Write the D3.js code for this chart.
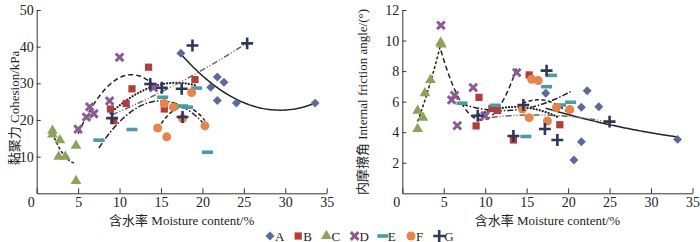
<!DOCTYPE html>
<html>
<head>
<meta charset="utf-8">
<script src="https://cdn.jsdelivr.net/npm/d3@7"></script>
<style>
  body { margin: 0; background: #fff; }
  text { font-family: "Liberation Serif", "Times New Roman", "Noto Sans CJK SC", serif; fill: #222; }
</style>
</head>
<body>
<svg id="chart" width="700" height="242"></svg>
<script>
const series = ["A", "B", "C", "D", "E", "F", "G"];
const colors = ["#5b6a9c", "#b13d3c", "#8da35b", "#8b5b93", "#4c9aa7", "#e6854b", "#2e375a"];
const xTicks = [0, 5, 10, 15, 20, 25, 30, 35];
const cohTicks = [10, 20, 30, 40, 50];
const fricTicks = [2, 4, 6, 8, 10, 12];

// cohesion (kPa) vs moisture content (%)
const cohA = [[17.4, 38.2], [21.0, 28.9], [21.8, 31.7], [22.6, 30.3], [21.8, 25.3], [24.1, 24.6], [33.6, 24.6]];
const cohB = [[8.9, 23.0], [9.3, 19.8], [10.8, 24.5], [11.5, 28.5], [13.5, 34.4], [15.4, 23.0], [19.1, 31.0]];
const cohC = [[1.9, 17.1], [1.9, 16.1], [2.8, 14.5], [2.65, 10.0], [3.45, 10.0], [4.74, 13.0], [4.74, 3.4]];
const cohD = [[5.0, 17.5], [6.0, 20.8], [6.4, 23.6], [6.9, 21.7], [8.8, 25.2], [10.0, 37.1], [14.1, 28.8]];
const cohE = [[7.5, 14.5], [11.5, 17.4], [15.2, 26.2], [17.6, 23.8], [18.2, 23.5], [19.3, 28.7], [20.6, 11.2]];
const cohF = [[14.6, 17.8], [15.4, 24.5], [15.7, 15.4], [16.5, 23.5], [17.6, 20.4], [18.7, 27.5], [20.3, 18.4]];
const cohG = [[9.1, 20.5], [13.7, 29.8], [15.1, 28.8], [17.5, 28.5], [17.6, 20.8], [18.8, 40.3], [25.4, 40.9]];

// internal friction angle (deg) vs moisture content (%)
const fricA = [[17.3, 6.55], [21.6, 5.63], [22.3, 6.72], [23.7, 5.67], [21.6, 3.38], [20.7, 2.18], [33.2, 3.53]];
const fricB = [[8.9, 4.41], [9.25, 6.28], [10.8, 5.55], [11.5, 5.42], [13.4, 3.49], [15.3, 7.75], [19.0, 4.49]];
const fricC = [[1.85, 4.21], [1.85, 5.41], [2.5, 4.95], [2.73, 6.55], [3.4, 7.42], [4.63, 9.86], [4.7, 9.75]];
const fricD = [[4.66, 11.0], [5.95, 6.11], [6.3, 6.41], [6.63, 4.43], [8.55, 6.92], [10.0, 5.08], [13.8, 7.9]];
const fricE = [[7.2, 5.9], [11.2, 5.76], [14.9, 3.72], [17.4, 6.98], [18.0, 7.72], [19.1, 5.78], [20.3, 5.96]];
const fricF = [[14.5, 5.52], [15.3, 4.95], [15.6, 7.47], [16.4, 7.38], [17.5, 4.73], [18.6, 5.62], [20.2, 5.48]];
const fricG = [[9.1, 5.08], [13.4, 3.75], [14.6, 5.78], [17.2, 4.21], [17.4, 8.03], [18.7, 3.49], [25.0, 4.69]];

const cohData = [cohA, cohB, cohC, cohD, cohE, cohF, cohG];
const fricData = [fricA, fricB, fricC, fricD, fricE, fricF, fricG];

// trend line styles per series
const dashes = [null, "0.1,3", "3,2", "5,3", "6,2,1.5,2", "4,2.5", "6,2,1,2,1,2"];
const lineColors = ["#222", "#222", "#222", "#222", "#222", "#222", "#666"];

const svg = d3.select("#chart");

// quadratic least squares fit  y = a + b x + c x^2
function quadFit(pts) {
    const s = [0, 0, 0, 0, 0], t = [0, 0, 0];
    pts.forEach(([x, y]) => {
        let p = 1;
        for (let k = 0; k < 5; k++) {
            s[k] += p;
            if (k < 3) t[k] += p * y;
            p *= x;
        }
    });
    const m = [[s[0], s[1], s[2]], [s[1], s[2], s[3]], [s[2], s[3], s[4]]];
    const det = a => a[0][0] * (a[1][1] * a[2][2] - a[1][2] * a[2][1])
        - a[0][1] * (a[1][0] * a[2][2] - a[1][2] * a[2][0])
        + a[0][2] * (a[1][0] * a[2][1] - a[1][1] * a[2][0]);
    const D = det(m);
    const coef = [0, 1, 2].map(c => det(m.map((row, r) => row.map((v, j) => j === c ? t[r] : v))) / D);
    return x => coef[0] + coef[1] * x + coef[2] * x * x;
}

const symX = d3.symbolX || d3.symbolCross;

function drawMarker(g, i, cx, cy) {
    const c = colors[i];
    const at = `translate(${cx},${cy})`;
    if (i === 0) {
        g.append("path").attr("d", d3.symbol(d3.symbolSquare, 40)()).attr("transform", at + " rotate(45)").attr("fill", c);
    } else if (i === 1) {
        g.append("path").attr("d", d3.symbol(d3.symbolSquare, 52)()).attr("transform", at).attr("fill", c);
    } else if (i === 2) {
        g.append("path").attr("d", d3.symbol(d3.symbolTriangle, 50)()).attr("transform", at).attr("fill", c);
    } else if (i === 3) {
        g.append("path").attr("d", d3.symbol(symX, 40)()).attr("transform", at).attr("fill", "none")
            .attr("stroke", c).attr("stroke-width", 3);
    } else if (i === 4) {
        g.append("rect").attr("x", cx - 5.5).attr("y", cy - 1.8).attr("width", 11).attr("height", 3.6).attr("fill", c);
    } else if (i === 5) {
        g.append("circle").attr("cx", cx).attr("cy", cy).attr("r", 4.5).attr("fill", c);
    } else {
        g.append("path").attr("d", d3.symbol(d3.symbolPlus || d3.symbolCross, 48)()).attr("transform", at)
            .attr("fill", "none").attr("stroke", c).attr("stroke-width", 2.6);
    }
}

function panel(opts) {
    const x = d3.scaleLinear().domain([0, 35]).range([opts.x0, opts.x1]);
    const y = d3.scaleLinear().domain([0, opts.yMax]).range([193.3, 10]);
    const g = svg.append("g");

    const xAxis = g.append("g").attr("transform", "translate(0,193.3)")
        .call(d3.axisBottom(x).tickValues(xTicks).tickSizeInner(-5).tickSizeOuter(0).tickPadding(4));
    xAxis.selectAll("text").attr("dx", d => d === 0 ? -6 : 0);

    const yAxis = g.append("g").attr("transform", `translate(${opts.x0},0)`)
        .call(d3.axisLeft(y).tickValues(opts.ticks).tickSizeInner(-4).tickSizeOuter(0).tickPadding(3));

    [xAxis, yAxis].forEach(a => {
        a.selectAll("path, line").attr("stroke", "#333").attr("stroke-width", 1);
        a.selectAll("text").style("font-size", "14px").attr("fill", "#222");
    });

    // trend lines
    const line = d3.line().x(d => x(d[0])).y(d => y(d[1]));
    opts.data.forEach((pts, i) => {
        const f = quadFit(pts);
        const [lo, hi] = d3.extent(pts, d => d[0]);
        const curve = d3.range(0, 61).map(k => { const xv = lo + (hi - lo) * k / 60; return [xv, f(xv)]; });
        g.append("path").attr("d", line(curve)).attr("fill", "none")
            .attr("stroke", lineColors[i]).attr("stroke-width", i === 1 ? 2.2 : 1.5)
            .attr("stroke-linecap", i === 1 ? "round" : "butt")
            .attr("stroke-dasharray", dashes[i]);
    });

    // points
    opts.data.forEach((pts, i) => {
        pts.forEach(p => drawMarker(g, i, x(p[0]), y(p[1])));
    });

    g.append("text").attr("x", (opts.x0 + opts.x1) / 2).attr("y", 225)
        .attr("text-anchor", "middle").style("font-size", "13px").text("含水率 Moisture content/%");

    g.append("text").attr("transform", `translate(${opts.titleX},${opts.titleY}) rotate(-90)`)
        .attr("text-anchor", "middle").style("font-size", "13px").text(opts.title);
}

panel({ x0: 36.7, x1: 326.7, yMax: 50, ticks: cohTicks, data: cohData,
        title: "黏聚力 Cohesion/kPa", titleX: 19, titleY: 108 });
panel({ x0: 402.3, x1: 692.5, yMax: 12, ticks: fricTicks, data: fricData,
        title: "内摩擦角 Internal friction angle/(°)", titleX: 367, titleY: 102 });

// legend
const legend = svg.append("g");
series.forEach((s, i) => {
    const lx = 270 + i * 28.2;
    drawMarker(legend, i, lx, 236);
    legend.append("text").attr("x", lx + 5).attr("y", 240.5).style("font-size", "13px").text(s);
});
</script>
</body>
</html>
